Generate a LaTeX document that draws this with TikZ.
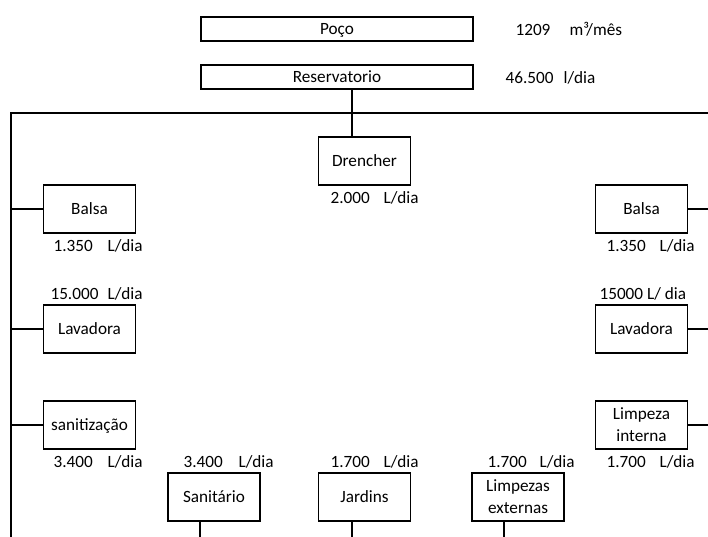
\documentclass[tikz,border=0pt]{standalone}
\usepackage{fontspec}
\setmainfont{Carlito}
\begin{document}
\begin{tikzpicture}[x=1pt,y=-1pt,line width=1.1pt,
  every node/.style={font=\fontsize{17.2}{22}\selectfont},
  wide/.style={draw,rectangle,minimum width=272pt,minimum height=24pt,inner sep=0pt,text depth=0pt},
  unit/.style={draw,rectangle,minimum width=92pt,minimum height=48pt,inner sep=0pt,align=center,text depth=0pt},
  lbl/.style={anchor=base west,inner sep=0pt}]
\useasboundingbox (0,0) rectangle (708,537);
% top boxes
\node[wide] (poco) at (337,29) {Poço};
\node[wide] (res) at (337,77) {Reservatorio};
\node[lbl] (q1) at (515,35.5) {1209};
\node[lbl] (q1u) at (569,35.5) {m³/mês};
\node[lbl] (q2) at (505,83.5) {46.500};
\node[lbl] (q2u) at (563,83.5) {l/dia};
% frame coordinates
\coordinate (tl) at (11,113);
\coordinate (tr) at (708,113);
\coordinate (bl) at (11,537);
% boxes
\node[unit] (dre) at (364.5,161) {Drencher};
\node[unit] (lbal) at (89.5,209) {Balsa};
\node[unit] (rbal) at (641.5,209) {Balsa};
\node[unit] (llav) at (89.5,329) {Lavadora};
\node[unit] (rlav) at (641.5,329) {Lavadora};
\node[unit] (lsan) at (89.5,425) {sanitização};
\node[unit] (rlim) at (641.5,425) {Limpeza\\interna};
\node[unit] (san) at (214,497) {Sanitário};
\node[unit] (jar) at (364.5,497) {Jardins};
\node[unit] (lext) at (518,497) {Limpezas\\externas};
% labels
\node[lbl] (dren) at (330,203.5) {2.000};
\node[lbl] (dreu) at (383,203.5) {L/dia};
\node[lbl] (lbaln) at (53,251.5) {1.350};
\node[lbl] (lbalu) at (107,251.5) {L/dia};
\node[lbl] (rbaln) at (606,251.5) {1.350};
\node[lbl] (rbalu) at (659,251.5) {L/dia};
\node[lbl] (llavn) at (50,299.5) {15.000};
\node[lbl] (llavu) at (107,299.5) {L/dia};
\node[lbl] (rlavn) at (599,299.5) {15000 L/ dia};
\node[lbl] (lsann) at (53,467.5) {3.400};
\node[lbl] (lsanu) at (107,467.5) {L/dia};
\node[lbl] (sann) at (183,467.5) {3.400};
\node[lbl] (sanu) at (238,467.5) {L/dia};
\node[lbl] (jarn) at (330,467.5) {1.700};
\node[lbl] (jaru) at (383,467.5) {L/dia};
\node[lbl] (lextn) at (487,467.5) {1.700};
\node[lbl] (lextu) at (539,467.5) {L/dia};
\node[lbl] (rlimn) at (606,467.5) {1.700};
\node[lbl] (rlimu) at (659,467.5) {L/dia};
% connectors
\draw (tr) -- (tl) -- (bl);
\draw ([xshift=15pt]res.south) -- ([xshift=-12.5pt]dre.north);
\draw (lbal.west) -- (lbal.west -| tl);
\draw (llav.west) -- (llav.west -| tl);
\draw (lsan.west) -- (lsan.west -| tl);
\draw (rbal.east) -- (rbal.east -| tr);
\draw (rlav.east) -- (rlav.east -| tr);
\draw (rlim.east) -- (rlim.east -| tr);
\draw ([xshift=-14pt]san.south) -- ([xshift=-14pt]san.south |- bl);
\draw ([xshift=-12.5pt]jar.south) -- ([xshift=-12.5pt]jar.south |- bl);
\draw ([xshift=-14pt]lext.south) -- ([xshift=-14pt]lext.south |- bl);
\end{tikzpicture}
\end{document}
